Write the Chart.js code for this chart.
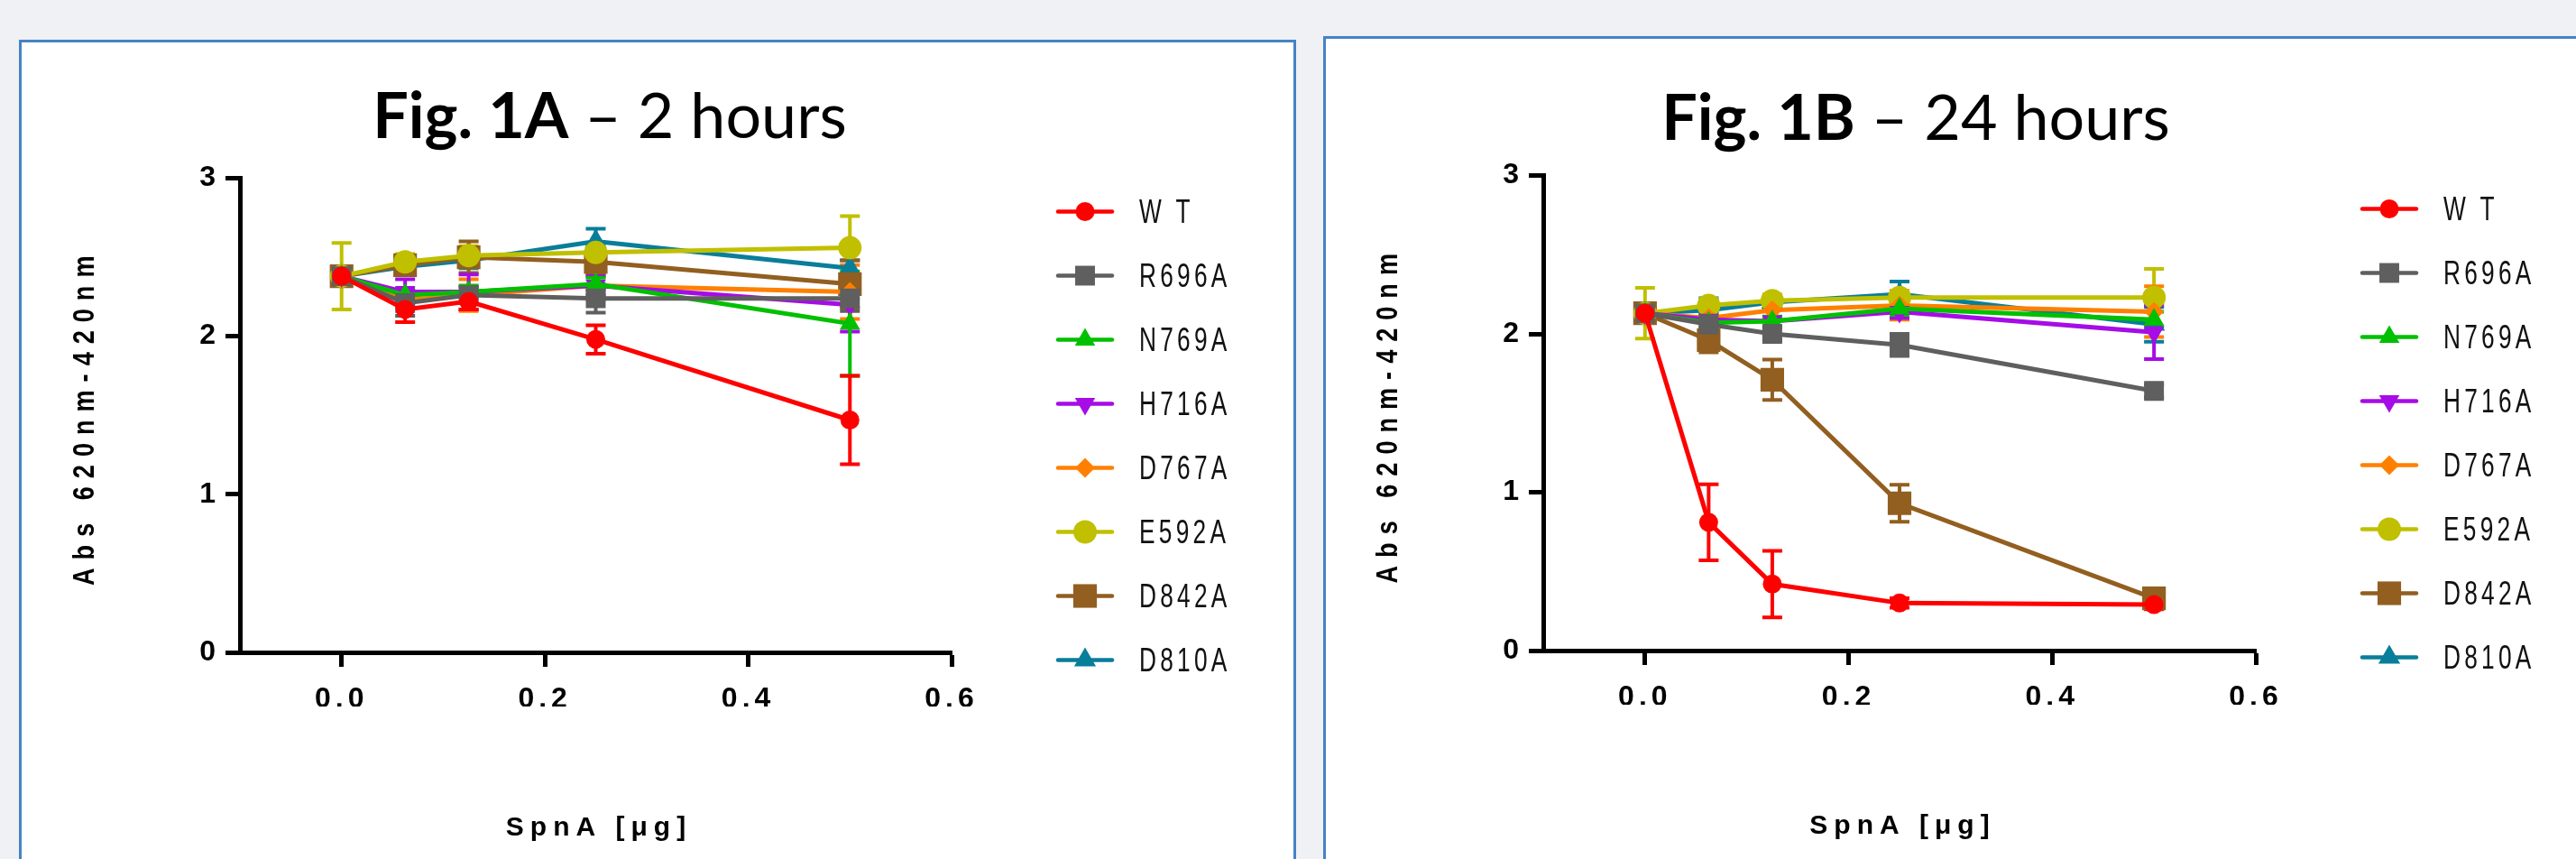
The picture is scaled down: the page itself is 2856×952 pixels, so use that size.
<!DOCTYPE html>
<html>
<head>
<meta charset="utf-8">
<script src="https://cdn.jsdelivr.net/npm/chart.js@4.4.1/dist/chart.umd.min.js"></script>
<style>
  html, body { margin: 0; padding: 0; }
  body { width: 2856px; height: 952px; background: #eff1f4; position: relative; overflow: hidden; }
  .panel { position: absolute; background: #fff; border: 3px solid #4682c4; box-sizing: border-box; }
  .title { position: absolute; font-family: Lato, "Open Sans", sans-serif; font-size: 70px; line-height: 70px;
           color: #000; white-space: nowrap; transform: translateX(-50%); }
  .title b { font-weight: 700; }
  canvas { position: absolute; }
</style>
</head>
<body>
<div class="panel" style="left:21px; top:44px; width:1416px; height:1000px;"></div>
<div class="panel" style="left:1467px; top:40px; width:1500px; height:1000px;"></div>
<div class="title" style="left:676px; top:91px;"><b>Fig. 1A</b> – 2 hours</div>
<div class="title" style="left:2124px; top:93px;"><b>Fig. 1B</b> – 24 hours</div>
<canvas id="c2h" width="1410" height="905" style="left:24px; top:47px;"></canvas>
<canvas id="c24h" width="1386" height="909" style="left:1470px; top:43px;"></canvas>

<script>
// SpnA dose on the x axis (µg)
const doses = [0, 0.0625, 0.125, 0.25, 0.5];
const xTicks = [0, 0.2, 0.4, 0.6];
const yTicks = [0, 1, 2, 3];
const names = ['W T', 'R696A', 'N769A', 'H716A', 'D767A', 'E592A', 'D842A', 'D810A'];

// 2 hours
const wt2h    = [2.38, 2.17, 2.22, 1.98, 1.47];
const r696a2h = [2.38, 2.21, 2.26, 2.24, 2.24];
const n769a2h = [2.38, 2.26, 2.28, 2.33, 2.08];
const h716a2h = [2.38, 2.28, 2.28, 2.32, 2.20];
const d767a2h = [2.38, 2.23, 2.26, 2.32, 2.28];
const e592a2h = [2.38, 2.47, 2.51, 2.53, 2.56];
const d842a2h = [2.38, 2.45, 2.50, 2.47, 2.33];
const d810a2h = [2.38, 2.44, 2.48, 2.60, 2.43];
// error (+/-) 2 hours
const wt2hErr    = [0.03, 0.08, 0.05, 0.09, 0.28];
const r696a2hErr = [0.03, 0.08, 0.05, 0.09, 0.08];
const n769a2hErr = [0.03, 0.04, 0.04, 0.04, 0.33];
const h716a2hErr = [0.03, 0.08, 0.11, 0.06, 0.17];
const d767a2hErr = [0.03, 0.05, 0.10, 0.09, 0.17];
const e592a2hErr = [0.21, 0.05, 0.06, 0.05, 0.20];
const d842a2hErr = [0.05, 0.05, 0.10, 0.08, 0.15];
const d810a2hErr = [0.03, 0.05, 0.05, 0.08, 0.05];

// 24 hours
const wt24h    = [2.13, 0.81, 0.42, 0.30, 0.29];
const r696a24h = [2.13, 2.06, 2.00, 1.93, 1.64];
const n769a24h = [2.13, 2.07, 2.08, 2.16, 2.09];
const h716a24h = [2.13, 2.09, 2.08, 2.14, 2.01];
const d767a24h = [2.13, 2.10, 2.15, 2.18, 2.14];
const e592a24h = [2.13, 2.18, 2.21, 2.23, 2.23];
const d842a24h = [2.13, 1.96, 1.71, 0.93, 0.33];
const d810a24h = [2.13, 2.15, 2.20, 2.25, 2.06];
const wt24hErr    = [0.03, 0.24, 0.21, 0.03, 0.03];
const r696a24hErr = [0.03, 0.07, 0.04, 0.07, 0.04];
const n769a24hErr = [0.03, 0.03, 0.03, 0.04, 0.05];
const h716a24hErr = [0.03, 0.08, 0.09, 0.04, 0.17];
const d767a24hErr = [0.03, 0.04, 0.05, 0.09, 0.16];
const e592a24hErr = [0.16, 0.04, 0.04, 0.04, 0.18];
const d842a24hErr = [0.05, 0.077, 0.127, 0.117, 0.04];
const d810a24hErr = [0.03, 0.075, 0.04, 0.08, 0.11];

// look of each series
const colors = ['#ff0000', '#5f5f5f', '#00c000', '#a50ce6', '#ff8000', '#c0c000', '#925f20', '#087e9a'];
const shapes = ['circle', 'rect', 'triangle', 'triangle', 'rectRot', 'circle', 'rect', 'triangle'];
const rotations = [0, 0, 0, 180, 0, 0, 0, 0];
const radii = [10.5, 15.5, 13, 13, 11, 13, 18.5, 14];

const FONT = '"Liberation Sans", Arial, sans-serif';

function makeSets(vals, errs) {
  return vals.map((v, i) => ({
    label: names[i],
    data: doses.map((d, j) => ({ x: d, y: v[j] })),
    errors: errs[i],
    borderColor: colors[i],
    backgroundColor: colors[i],
    pointBackgroundColor: colors[i],
    pointBorderWidth: 0,
    pointStyle: shapes[i],
    pointRotation: rotations[i],
    pointRadius: radii[i],
    borderWidth: 5,
    tension: 0,
    fill: false
  }));
}

const errorBars = {
  id: 'errorBars',
  beforeDatasetsDraw(chart) {
    const ctx = chart.ctx;
    const ys = chart.scales.y;
    ctx.save();
    for (let i = chart.data.datasets.length - 1; i >= 0; i--) {
      const ds = chart.data.datasets[i];
      const meta = chart.getDatasetMeta(i);
      ctx.strokeStyle = ds.borderColor;
      ctx.lineWidth = 4;
      ds.data.forEach((p, j) => {
        const e = ds.errors[j];
        const x = meta.data[j].x;
        const top = ys.getPixelForValue(p.y + e);
        const bot = ys.getPixelForValue(p.y - e);
        ctx.beginPath();
        ctx.moveTo(x, top); ctx.lineTo(x, bot);
        ctx.moveTo(x - 11, top); ctx.lineTo(x + 11, top);
        ctx.moveTo(x - 11, bot); ctx.lineTo(x + 11, bot);
        ctx.stroke();
      });
    }
    ctx.restore();
  }
};

function drawMarker(ctx, ds, x, y) {
  if (Chart.helpers && Chart.helpers.drawPoint) {
    Chart.helpers.drawPoint(ctx, { pointStyle: ds.pointStyle, rotation: ds.pointRotation, radius: ds.pointRadius, borderWidth: 0 }, x, y);
  } else {
    ctx.beginPath(); ctx.arc(x, y, ds.pointRadius, 0, Math.PI * 2); ctx.fill();
  }
}

const decorations = {
  id: 'decorations',
  beforeDraw(chart) {
    chart.ctx.letterSpacing = '5px';
  },
  afterDraw(chart) {
    const ctx = chart.ctx;
    const ca = chart.chartArea;
    ctx.save();
    // legend
    ctx.font = '37px ' + FONT;
    ctx.letterSpacing = '6px';
    ctx.textAlign = 'left';
    ctx.textBaseline = 'middle';
    chart.data.datasets.forEach((ds, i) => {
      const y = ca.top + 37 + i * 71;
      const mx = ca.right + 148;
      ctx.strokeStyle = ds.borderColor;
      ctx.fillStyle = ds.borderColor;
      ctx.lineWidth = 4.5;
      ctx.lineCap = 'round';
      ctx.beginPath(); ctx.moveTo(mx - 30, y); ctx.lineTo(mx + 30, y); ctx.stroke();
      drawMarker(ctx, ds, mx, y);
      ctx.fillStyle = '#111';
      ctx.save();
      ctx.translate(mx + 60, y + 2);
      ctx.scale(0.71, 1);
      ctx.fillText(ds.label, 0, 0);
      ctx.restore();
    });
    // axis titles
    ctx.font = 'bold 30px ' + FONT;
    ctx.letterSpacing = '7px';
    ctx.fillStyle = '#000';
    ctx.textBaseline = 'alphabetic';
    ctx.textAlign = 'left';
    const xt = 'SpnA [μg]';
    const xw = ctx.measureText(xt).width - 7;
    ctx.fillText(xt, (ca.left + ca.right) / 2 - xw / 2, ca.bottom + 203);

    ctx.font = 'bold 33px ' + FONT;
    ctx.letterSpacing = '11px';
    const yt = 'Abs 620nm-420nm';
    const squeeze = 0.82;
    const yw = (ctx.measureText(yt).width - 11) * squeeze;
    ctx.translate(ca.left - 162, (ca.top + ca.bottom) / 2 + 6);
    ctx.rotate(-Math.PI / 2);
    ctx.scale(squeeze, 1);
    ctx.fillText(yt, -yw / 2 / squeeze, 0);
    ctx.restore();
  }
};

function build(id, vals, errs, area) {
  const canvas = document.getElementById(id);
  const cl = parseFloat(canvas.style.left), ct = parseFloat(canvas.style.top);
  const yW = 100, xH = 60;
  return new Chart(canvas.getContext('2d'), {
    type: 'line',
    data: { datasets: makeSets(vals, errs) },
    options: {
      responsive: false,
      animation: false,
      events: [],
      layout: {
        padding: {
          left: area.left - cl - yW,
          top: area.top - ct,
          right: cl + canvas.width - area.right,
          bottom: ct + canvas.height - area.bottom - xH
        }
      },
      plugins: { legend: { display: false }, title: { display: false }, tooltip: { enabled: false } },
      scales: {
        x: {
          type: 'linear', min: -0.1, max: 0.6,
          afterBuildTicks: s => { s.ticks = xTicks.map(v => ({ value: v })); },
          afterFit: s => { s.height = xH; },
          grid: { drawOnChartArea: false, drawTicks: true, tickLength: 16, tickWidth: 5, tickColor: '#000' },
          border: { display: true, width: 5, color: '#000' },
          ticks: { color: '#000', padding: 17, maxRotation: 0, font: { family: FONT, size: 32, weight: 'bold' },
                   callback: v => v.toFixed(1) }
        },
        y: {
          type: 'linear', min: 0, max: 3,
          afterBuildTicks: s => { s.ticks = yTicks.map(v => ({ value: v })); },
          afterFit: s => { s.width = yW; },
          grid: { drawOnChartArea: false, drawTicks: true, tickLength: 16, tickWidth: 5, tickColor: '#000' },
          border: { display: true, width: 5, color: '#000' },
          ticks: { color: '#000', padding: 6, font: { family: FONT, size: 32, weight: 'bold' },
                   callback: v => String(v) }
        }
      }
    },
    plugins: [errorBars, decorations]
  });
}

build('c2h',
  [wt2h, r696a2h, n769a2h, h716a2h, d767a2h, e592a2h, d842a2h, d810a2h],
  [wt2hErr, r696a2hErr, n769a2hErr, h716a2hErr, d767a2hErr, e592a2hErr, d842a2hErr, d810a2hErr],
  { left: 266, top: 197.5, right: 1055, bottom: 723 });

build('c24h',
  [wt24h, r696a24h, n769a24h, h716a24h, d767a24h, e592a24h, d842a24h, d810a24h],
  [wt24hErr, r696a24hErr, n769a24hErr, h716a24hErr, d767a24hErr, e592a24hErr, d842a24hErr, d810a24hErr],
  { left: 1711, top: 194.5, right: 2501, bottom: 721 });
</script>
</body>
</html>
